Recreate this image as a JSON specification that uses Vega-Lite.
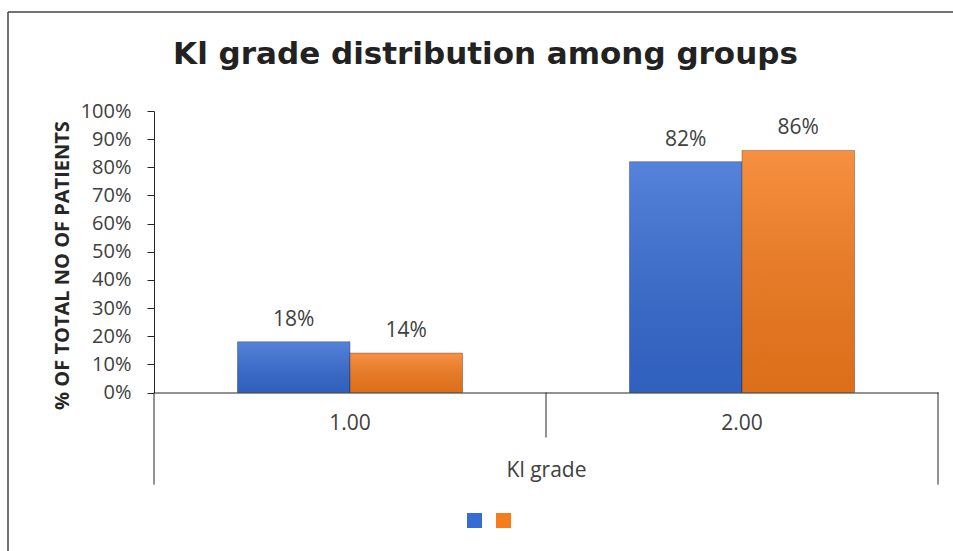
{
  "$schema": "https://vega.github.io/schema/vega-lite/v6.json",
  "description": "Share of patients in each KL grade, per group, as a grouped bar chart inside a framed chart area.",
  "autosize": {"type": "none"},
  "padding": {"left": 8, "top": 12, "right": -10, "bottom": -10},
  "width": 955,
  "height": 549,
  "background": "white",
  "title": {
    "text": "Kl grade distribution among groups",
    "font": "DejaVu Sans",
    "fontSize": 31,
    "fontWeight": "bold",
    "color": "#222222",
    "anchor": "middle",
    "frame": "group",
    "baseline": "alphabetic",
    "offset": -83
  },
  "config": {
    "font": "Open Sans",
    "view": {"stroke": "#444444", "strokeWidth": 1.5, "strokeDash": [955, 1504, 549, 0]}
  },
  "data": {
    "values": [
      {"kl": "1.00", "grp": "Group 1", "share": 0.18},
      {"kl": "1.00", "grp": "Group 2", "share": 0.14},
      {"kl": "2.00", "grp": "Group 1", "share": 0.82},
      {"kl": "2.00", "grp": "Group 2", "share": 0.86}
    ]
  },
  "layer": [
    {
      "mark": {"type": "bar", "stroke": "rgba(0,0,0,0.3)", "strokeWidth": 1},
      "encoding": {
        "x": {
          "field": "kl",
          "type": "nominal",
          "scale": {"range": [146, 930], "paddingInner": 0, "paddingOuter": 0},
          "axis": {
            "orient": "bottom",
            "offset": -168.5,
            "title": "Kl grade",
            "labelAngle": 0,
            "ticks": false,
            "domainColor": "#262626",
            "domainWidth": 1,
            "labelFont": "Open Sans",
            "labelFontSize": 21,
            "labelColor": "#404040",
            "labelBaseline": "alphabetic",
            "labelPadding": 37,
            "titleFont": "Open Sans",
            "titleFontSize": 21,
            "titleFontWeight": "normal",
            "titleColor": "#404040",
            "titleBaseline": "alphabetic",
            "titleY": 84
          }
        },
        "xOffset": {
          "field": "grp",
          "type": "nominal",
          "scale": {"paddingInner": 0, "paddingOuter": 0.742}
        },
        "y": {
          "field": "share",
          "type": "quantitative",
          "scale": {"domain": [0, 1], "range": [380.5, 99], "nice": false},
          "axis": {
            "orient": "left",
            "offset": -146,
            "values": [0, 0.1, 0.2, 0.3, 0.4, 0.5, 0.6, 0.7, 0.8, 0.9, 1],
            "format": ".0%",
            "grid": false,
            "tickSize": 7,
            "tickColor": "#262626",
            "domainColor": "#262626",
            "labelFont": "Open Sans",
            "labelFontSize": 20,
            "labelColor": "#404040",
            "labelPadding": 16,
            "title": "% OF TOTAL NO OF PATIENTS",
            "titleFont": "Open Sans",
            "titleFontSize": 20,
            "titleFontWeight": "bold",
            "titleColor": "#262626",
            "titleBaseline": "middle",
            "titleX": -92,
            "titleY": 253
          }
        },
        "color": {
          "field": "grp",
          "type": "nominal",
          "scale": {"range": ["#356bd3", "#f57b1c"]},
          "legend": {
            "orient": "none",
            "legendX": 459,
            "legendY": 501,
            "direction": "horizontal",
            "title": null,
            "labelExpr": "''",
            "symbolType": "square",
            "symbolSize": 225,
            "symbolStrokeWidth": 0,
            "labelOffset": 0,
            "columnPadding": 14
          }
        }
      }
    },
    {
      "mark": {
        "type": "bar",
        "color": {
          "gradient": "linear",
          "x1": 0, "y1": 0, "x2": 0, "y2": 1,
          "stops": [
            {"offset": 0, "color": "rgba(255,255,255,0.16)"},
            {"offset": 1, "color": "rgba(0,0,0,0.10)"}
          ]
        }
      },
      "encoding": {
        "x": {"field": "kl", "type": "nominal"},
        "xOffset": {"field": "grp", "type": "nominal"},
        "y": {"field": "share", "type": "quantitative"}
      }
    },
    {
      "mark": {
        "type": "text",
        "font": "Open Sans",
        "fontSize": 21,
        "color": "#404040",
        "baseline": "alphabetic",
        "dy": -16
      },
      "encoding": {
        "x": {"field": "kl", "type": "nominal"},
        "xOffset": {"field": "grp", "type": "nominal"},
        "y": {"field": "share", "type": "quantitative"},
        "text": {"field": "share", "type": "quantitative", "format": ".0%"}
      }
    },
    {
      "data": {"values": [{}]},
      "mark": {"type": "rule", "color": "#262626", "strokeWidth": 1},
      "encoding": {
        "x": {"datum": "1.00", "bandPosition": 0},
        "y": {"datum": 0},
        "y2": {"datum": -0.327}
      }
    },
    {
      "data": {"values": [{}]},
      "mark": {"type": "rule", "color": "#262626", "strokeWidth": 1},
      "encoding": {
        "x": {"datum": "2.00", "bandPosition": 0},
        "y": {"datum": 0},
        "y2": {"datum": -0.16}
      }
    },
    {
      "data": {"values": [{}]},
      "mark": {"type": "rule", "color": "#262626", "strokeWidth": 1},
      "encoding": {
        "x": {"datum": "2.00", "bandPosition": 1},
        "y": {"datum": 0},
        "y2": {"datum": -0.327}
      }
    }
  ]
}
